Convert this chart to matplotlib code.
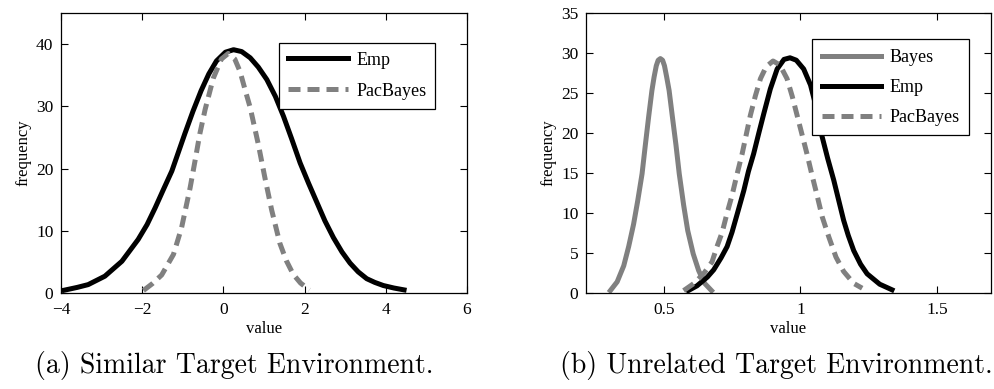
import matplotlib
matplotlib.use("Agg")
import matplotlib.pyplot as plt
from matplotlib.ticker import FixedLocator

# ---------------- data ----------------
# (a) Similar target environment
a_emp_x = [-3.92, -3.60, -3.33, -2.92, -2.50, -2.10, -1.88, -1.68, -1.48, -1.27, -1.11,
           -0.95, -0.75, -0.55, -0.36, -0.17, 0.05, 0.25, 0.45, 0.66, 0.86, 1.07,
           1.28, 1.48, 1.68, 1.89, 2.10, 2.30, 2.50, 2.71, 2.92, 3.12, 3.32, 3.53,
           3.73, 3.94, 4.20, 4.45]
a_emp_y = [0.45, 0.9, 1.35, 2.7, 5.1, 8.6, 11.0, 13.7, 16.6, 19.6, 22.6,
           25.6, 29.2, 32.5, 35.2, 37.3, 38.7, 39.1, 38.8, 37.8, 36.3, 34.3,
           31.6, 28.4, 24.8, 20.9, 17.6, 14.6, 11.6, 8.9, 6.6, 4.8, 3.4, 2.3,
           1.7, 1.2, 0.8, 0.5]

a_pac_x = [-1.97, -1.75, -1.52, -1.23, -1.03, -0.82, -0.70, -0.58, -0.45, -0.25, -0.05,
           0.12, 0.28, 0.41, 0.55, 0.66, 0.86, 1.02, 1.19, 1.39, 1.55, 1.72, 1.90, 2.12]
a_pac_y = [0.4, 1.5, 2.9, 6.2, 10.5, 16.9, 21.2, 25.6, 29.5, 34.5, 37.6,
           38.5, 37.6, 35.6, 32.3, 29.8, 23.9, 18.6, 13.3, 8.0, 5.2, 3.0, 1.6, 0.5]

# (b) Unrelated target environment
b_bayes_x = [0.305, 0.330, 0.354, 0.372, 0.390, 0.405, 0.421, 0.433, 0.445, 0.457, 0.465,
             0.473, 0.480, 0.488, 0.496, 0.503, 0.511, 0.520, 0.532, 0.545, 0.557,
             0.573, 0.588, 0.608, 0.628, 0.650, 0.675]
b_bayes_y = [0.3, 1.4, 3.4, 5.8, 8.6, 11.5, 14.9, 18.5, 22.0, 25.3, 27.0,
             28.4, 29.1, 29.3, 29.1, 28.4, 27.0, 25.3, 22.0, 18.5, 14.9,
             11.0, 7.8, 4.9, 2.8, 1.2, 0.3]

b_emp_x = [0.590, 0.622, 0.660, 0.683, 0.710, 0.732, 0.750, 0.770, 0.793, 0.810, 0.829,
           0.848, 0.866, 0.890, 0.915, 0.940, 0.962, 0.985, 1.012, 1.037, 1.061,
           1.079, 1.100, 1.122, 1.140, 1.158, 1.175, 1.195, 1.220, 1.244, 1.290, 1.335]
b_emp_y = [0.3, 0.9, 2.0, 2.9, 4.4, 5.8, 7.6, 10.0, 12.8, 15.2, 17.4,
           20.0, 22.4, 25.5, 28.0, 29.2, 29.4, 29.1, 28.0, 26.0, 22.8,
           19.6, 16.8, 14.1, 11.6, 9.1, 7.2, 5.3, 3.6, 2.4, 1.1, 0.4]

b_pac_x = [0.573, 0.615, 0.650, 0.677, 0.695, 0.714, 0.732, 0.750, 0.768, 0.787, 0.802,
           0.817, 0.835, 0.854, 0.875, 0.900, 0.925, 0.951, 0.970, 0.988, 1.006,
           1.024, 1.042, 1.061, 1.080, 1.104, 1.130, 1.158, 1.195, 1.226]
b_pac_y = [0.3, 1.3, 2.6, 3.9, 5.8, 7.6, 10.0, 12.2, 14.8, 17.4, 19.8,
           22.2, 24.6, 26.8, 28.3, 29.0, 28.5, 26.8, 24.6, 22.2, 19.8,
           17.4, 14.8, 12.2, 9.5, 7.0, 4.5, 2.7, 1.2, 0.6]

a_xticks = [-4, -2, 0, 2, 4, 6]
a_xticklabels = ['\u22124', '\u22122', '0', '2', '4', '6']
a_yticks = [0, 10, 20, 30, 40]
b_xticks = [0.5, 1, 1.5]
b_xticklabels = ['0.5', '1', '1.5']
b_yticks = [0, 5, 10, 15, 20, 25, 30, 35]

captions = ["(a) Similar Target Environment.", "(b) Unrelated Target Environment."]

# ---------------- style ----------------
plt.rcParams['font.family'] = ['Liberation Serif', 'DejaVu Serif']
GREY = '#808080'
LW = 3.6
DASH = (2.4, 1.4)
TICK_FS = 12.5
LEG_FS = 13
LABEL_FS = 12

fig = plt.figure(figsize=(9.95, 3.89), dpi=100)
axA = fig.add_axes([61 / 995, 96 / 389, 406 / 995, 280 / 389])
axB = fig.add_axes([586 / 995, 96 / 389, 405 / 995, 280 / 389])


def style(ax, xticks, xlabels, yticks, xlim, ylim):
    ax.set_xlim(*xlim)
    ax.set_ylim(*ylim)
    ax.xaxis.set_major_locator(FixedLocator(xticks))
    ax.set_xticklabels(xlabels)
    ax.yaxis.set_major_locator(FixedLocator(yticks))
    ax.tick_params(direction='in', length=5, width=0.8, top=True, right=True,
                   labelsize=TICK_FS)
    ax.tick_params(axis='x', pad=6.5)
    ax.tick_params(axis='y', pad=5.5)
    for s in ax.spines.values():
        s.set_linewidth(0.9)
    ax.set_xlabel('value', fontsize=LABEL_FS, labelpad=2)
    ax.set_ylabel('frequency', fontsize=LABEL_FS, labelpad=3)


def legend(ax, anchor, ls, bp):
    leg = ax.legend(loc='upper left', bbox_to_anchor=anchor, fontsize=LEG_FS,
                    frameon=True, fancybox=False, framealpha=1, edgecolor='black',
                    handlelength=3.3, handletextpad=0.45, labelspacing=ls,
                    borderpad=bp, borderaxespad=0)
    leg.get_frame().set_linewidth(0.9)


# (a)
axA.plot(a_emp_x, a_emp_y, color='black', lw=LW, label='Emp',
         solid_joinstyle='round')
axA.plot(a_pac_x, a_pac_y, color=GREY, lw=LW, label='PacBayes',
         linestyle=(0, DASH), dash_capstyle='butt')
style(axA, a_xticks, a_xticklabels, a_yticks, (-4, 6), (0, 45))
legend(axA, (0.5377, 0.894), 0.78, 0.5)

# (b)
axB.plot(b_bayes_x, b_bayes_y, color=GREY, lw=LW, label='Bayes',
         solid_joinstyle='round')
axB.plot(b_emp_x, b_emp_y, color='black', lw=LW, label='Emp',
         solid_joinstyle='round')
axB.plot(b_pac_x, b_pac_y, color=GREY, lw=LW, label='PacBayes',
         linestyle=(0, DASH), dash_capstyle='butt')
style(axB, b_xticks, b_xticklabels, b_yticks, (0.216, 1.697), (0, 35))
legend(axB, (0.5588, 0.906), 0.72, 0.53)

# captions
fig.text(234 / 995, 1 - 366 / 389, captions[0], family='cmr10', fontsize=20,
         ha='center', va='center')
fig.text(776 / 995, 1 - 366 / 389, captions[1], family='cmr10', fontsize=20,
         ha='center', va='center')

fig.savefig('out.png', dpi=100)
